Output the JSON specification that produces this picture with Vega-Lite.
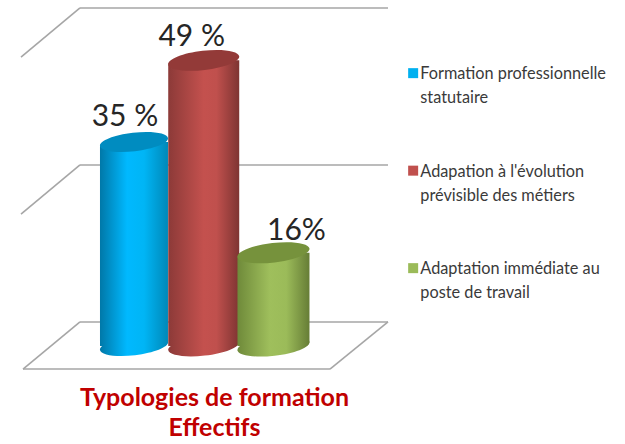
{
"$schema":"https://vega.github.io/schema/vega-lite/v6.json",
"width":625,"height":444,"autosize":"none","padding":0,"background":"white",
"title":{"text":["Typologies de formation","Effectifs"],"orient":"top","anchor":"middle","offset":0,"dx":-98,"dy":461,"baseline":"alphabetic","font":"Lato","fontSize":25,"fontWeight":"bold","color":"#c00000","lineHeight":30},
"datasets":{
"bars":[
{"slot":1,"typologie":"Formation professionnelle statutaire","pct":35,"label":"35 %"},
{"slot":2,"typologie":"Adapation à l'évolution prévisible des métiers","pct":49,"label":"49 %"},
{"slot":3,"typologie":"Adaptation immédiate au poste de travail","pct":16,"label":"16%"}],
"frame":[
{"xa":0.226,"xb":4.642,"ya":57.98,"yb":57.98},
{"xa":0.226,"xb":-0.62,"ya":57.98,"yb":49.57},
{"xa":0.226,"xb":4.642,"ya":31.05,"yb":31.05},
{"xa":0.226,"xb":-0.62,"ya":31.05,"yb":22.64},
{"xa":0.226,"xb":4.642,"ya":4.12,"yb":4.12},
{"xa":0.226,"xb":-0.591,"ya":4.12,"yb":-3.95},
{"xa":-0.591,"xb":3.81,"ya":-3.95,"yb":-3.95},
{"xa":3.81,"xb":4.642,"ya":-3.95,"yb":4.12}]
},
"data":{"name":"bars"},
"layer":[
{"data":{"name":"frame"},"mark":{"type":"rule","color":"#a6a6a6","strokeWidth":1.6},
 "encoding":{"x":{"field":"xa","type":"quantitative","axis":null,"scale":{"domain":[-0.921,8.04],"nice":false,"zero":false,"padding":0}},"x2":{"field":"xb"},"y":{"field":"ya","type":"quantitative","axis":null,"scale":{"domain":[-16.81,59.35],"nice":false,"zero":false,"padding":0}},"y2":{"field":"yb"}}},
{"mark":{"type":"point","size":0,"filled":true},
 "encoding":{"x":{"field":"slot","type":"quantitative","axis":null},"y":{"field":"pct","type":"quantitative","axis":null},
 "color":{"field":"typologie","type":"nominal","sort":null,"scale":{"domain":["Formation professionnelle statutaire","Adapation à l'évolution prévisible des métiers","Adaptation immédiate au poste de travail"],"range":["#00b0f0","#c0504d","#9bbb59"]},
 "legend":{"title":null,"orient":"none","legendX":405,"legendY":65,"symbolType":"square","symbolSize":100,"symbolOpacity":1,"labelFont":"Lato","labelFontSize":16.3,"labelColor":"#3a3a3a","labelLimit":0,"labelOffset":-1,"rowPadding":55.5,"labelExpr":"datum.label == \"Formation professionnelle statutaire\" ? [\"Formation professionnelle\",\"statutaire\"] : datum.label == \"Adaptation immédiate au poste de travail\" ? [\"Adaptation immédiate au\",\"poste de travail\"] : [\"Adapation à l'évolution\",\"prévisible des métiers\"]","encode":{"labels":{"update":{"lineHeight":{"value":24},"dy":{"value":1}}}}}}}},

{"transform":[{"filter":"datum.slot == 1"}],"layer":[
 {"mark":{"type":"bar","width":68,"cornerRadiusTopLeft":5,"cornerRadiusBottomRight":5,"fill":{"gradient":"linear","x1":0,"x2":1,"y1":0,"y2":0,"stops":[{"offset":0,"color":"#0078a8"},{"offset":0.4,"color":"#00b9ff"},{"offset":0.65,"color":"#00b5f5"},{"offset":1,"color":"#0088b8"}]}},
  "encoding":{"x":{"field":"slot","type":"quantitative","axis":null},"y":{"field":"pct","type":"quantitative","axis":null},"y2":{"datum":0}}},
 {"mark":{"type":"point","filled":true,"opacity":1,"size":4624,"shape":"M-1,0.116 A1,0.27 -6.6 1 0 1,-0.116 A1,0.27 -6.6 1 0 -1,0.116 Z","fill":{"gradient":"linear","x1":0,"x2":1,"y1":0,"y2":0,"stops":[{"offset":0,"color":"#0078a8"},{"offset":0.4,"color":"#00b9ff"},{"offset":0.65,"color":"#00b5f5"},{"offset":1,"color":"#0088b8"}]}},
  "encoding":{"x":{"field":"slot","type":"quantitative","axis":null},"y":{"datum":0,"type":"quantitative","axis":null}}},
 {"mark":{"type":"point","filled":true,"opacity":1,"size":4624,"fill":"#008cc0","shape":"M-1,0.116 A1,0.27 -6.6 1 0 1,-0.116 A1,0.27 -6.6 1 0 -1,0.116 Z"},
  "encoding":{"x":{"field":"slot","type":"quantitative","axis":null},"y":{"field":"pct","type":"quantitative","axis":null}}},
 {"mark":{"type":"text","font":"Lato","fontSize":30,"color":"#262626","baseline":"alphabetic","dx":-9,"dy":-16},
  "encoding":{"x":{"field":"slot","type":"quantitative","axis":null},"y":{"field":"pct","type":"quantitative","axis":null},"text":{"field":"label"}}}
]},
{"transform":[{"filter":"datum.slot == 2"}],"layer":[
 {"mark":{"type":"bar","width":71,"cornerRadiusTopLeft":5,"cornerRadiusBottomRight":5,"fill":{"gradient":"linear","x1":0,"x2":1,"y1":0,"y2":0,"stops":[{"offset":0,"color":"#8c3a38"},{"offset":0.5,"color":"#c4514e"},{"offset":0.68,"color":"#c0504d"},{"offset":1,"color":"#7e3432"}]}},
  "encoding":{"x":{"field":"slot","type":"quantitative","axis":null},"y":{"field":"pct","type":"quantitative","axis":null},"y2":{"datum":0}}},
 {"mark":{"type":"point","filled":true,"opacity":1,"size":5041,"shape":"M-1,0.116 A1,0.27 -6.6 1 0 1,-0.116 A1,0.27 -6.6 1 0 -1,0.116 Z","fill":{"gradient":"linear","x1":0,"x2":1,"y1":0,"y2":0,"stops":[{"offset":0,"color":"#8c3a38"},{"offset":0.5,"color":"#c4514e"},{"offset":0.68,"color":"#c0504d"},{"offset":1,"color":"#7e3432"}]}},
  "encoding":{"x":{"field":"slot","type":"quantitative","axis":null},"y":{"datum":0,"type":"quantitative","axis":null}}},
 {"mark":{"type":"point","filled":true,"opacity":1,"size":5041,"fill":"#933a38","shape":"M-1,0.116 A1,0.27 -6.6 1 0 1,-0.116 A1,0.27 -6.6 1 0 -1,0.116 Z"},
  "encoding":{"x":{"field":"slot","type":"quantitative","axis":null},"y":{"field":"pct","type":"quantitative","axis":null}}},
 {"mark":{"type":"text","font":"Lato","fontSize":30,"color":"#262626","baseline":"alphabetic","dx":-12,"dy":-14},
  "encoding":{"x":{"field":"slot","type":"quantitative","axis":null},"y":{"field":"pct","type":"quantitative","axis":null},"text":{"field":"label"}}}
]},
{"transform":[{"filter":"datum.slot == 3"}],"layer":[
 {"mark":{"type":"bar","width":72,"cornerRadiusTopLeft":5,"cornerRadiusBottomRight":5,"fill":{"gradient":"linear","x1":0,"x2":1,"y1":0,"y2":0,"stops":[{"offset":0,"color":"#6f8a3a"},{"offset":0.45,"color":"#9fbf5c"},{"offset":0.68,"color":"#9bbb59"},{"offset":1,"color":"#667d36"}]}},
  "encoding":{"x":{"field":"slot","type":"quantitative","axis":null},"y":{"field":"pct","type":"quantitative","axis":null},"y2":{"datum":0}}},
 {"mark":{"type":"point","filled":true,"opacity":1,"size":5184,"shape":"M-1,0.116 A1,0.27 -6.6 1 0 1,-0.116 A1,0.27 -6.6 1 0 -1,0.116 Z","fill":{"gradient":"linear","x1":0,"x2":1,"y1":0,"y2":0,"stops":[{"offset":0,"color":"#6f8a3a"},{"offset":0.45,"color":"#9fbf5c"},{"offset":0.68,"color":"#9bbb59"},{"offset":1,"color":"#667d36"}]}},
  "encoding":{"x":{"field":"slot","type":"quantitative","axis":null},"y":{"datum":0,"type":"quantitative","axis":null}}},
 {"mark":{"type":"point","filled":true,"opacity":1,"size":5184,"fill":"#76923c","shape":"M-1,0.116 A1,0.27 -6.6 1 0 1,-0.116 A1,0.27 -6.6 1 0 -1,0.116 Z"},
  "encoding":{"x":{"field":"slot","type":"quantitative","axis":null},"y":{"field":"pct","type":"quantitative","axis":null}}},
 {"mark":{"type":"text","font":"Lato","fontSize":30,"color":"#262626","baseline":"alphabetic","dx":23,"dy":-13},
  "encoding":{"x":{"field":"slot","type":"quantitative","axis":null},"y":{"field":"pct","type":"quantitative","axis":null},"text":{"field":"label"}}}
]}
],
"config":{"view":{"stroke":null}}
}
